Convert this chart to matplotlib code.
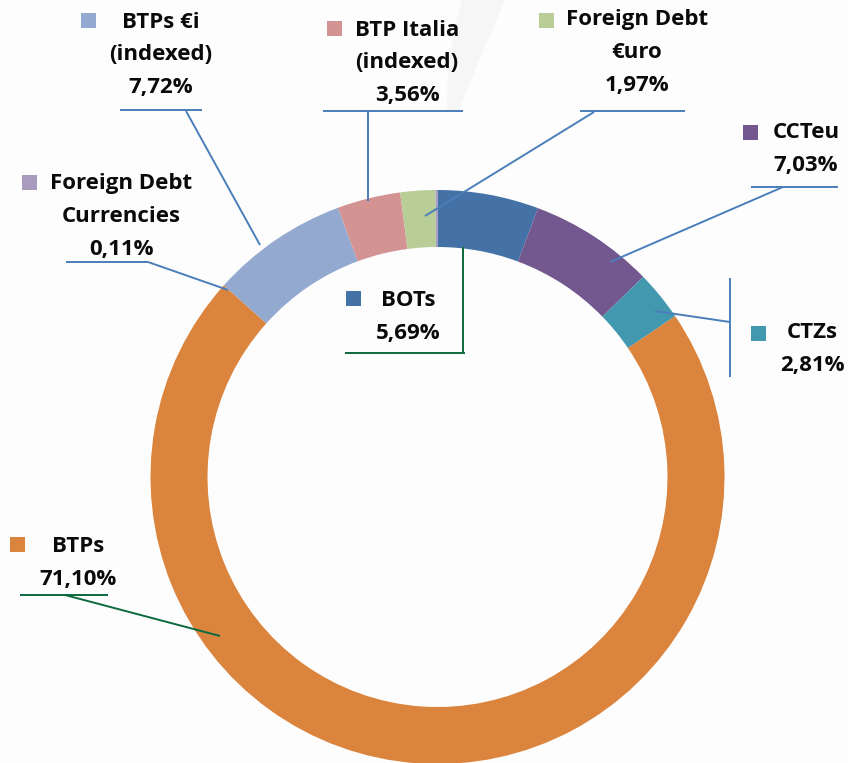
import numpy as np
import matplotlib
matplotlib.use("Agg")
import matplotlib.pyplot as plt
from matplotlib.patches import Rectangle, Polygon

# Composition of public debt (% of total), clockwise from 12 o'clock
names = ["BOTs", "CCTeu", "CTZs", "BTPs", "BTPs €i\n(indexed)",
         "BTP Italia\n(indexed)", "Foreign Debt\n€uro", "Foreign Debt\nCurrencies"]
values = [5.69, 7.03, 2.81, 71.10, 7.72, 3.56, 1.97, 0.11]
colors = ["#4472A6", "#72588E", "#4298AF", "#DB843D", "#93A9CF",
          "#D29392", "#B9CD96", "#A99BBE"]

W, H = 848, 763
BLUE = "#4A7EBB"
GREEN = "#0B6B3E"

# label layout in pixel coords: text centre x, first line y, square corner, leader segments, colour
layout = {
    "BOTs": (408, 300, (346, 291), [[(345, 353), (465, 353)], [(463, 353), (463, 247)]], GREEN),
    "CCTeu": (806, 133, (743, 125), [[(751, 187), (838, 187)], [(783, 187), (610, 262)]], BLUE),
    "CTZs": (812, 333, (751, 326), [[(730, 278), (730, 377)], [(730, 322), (655, 311)]], BLUE),
    "BTPs": (78, 547, (10, 537), [[(20, 595), (108, 595)], [(65, 595), (220, 636)]], GREEN),
    "BTPs €i\n(indexed)": (161, 22, (81, 13), [[(120, 110), (202, 110)], [(186, 111), (260, 245)]], BLUE),
    "BTP Italia\n(indexed)": (407, 30, (327, 21), [[(323, 111), (463, 111)], [(368, 111), (368, 201)]], BLUE),
    "Foreign Debt\n€uro": (637, 20, (539, 13), [[(580, 111), (685, 111)], [(594, 112), (425, 216)]], BLUE),
    "Foreign Debt\nCurrencies": (121, 184, (22, 175), [[(66, 262), (148, 262)], [(148, 262), (228, 290)]], BLUE),
}

bg = "#FEFDFD"
fig = plt.figure(figsize=(W / 100, H / 100), dpi=100, facecolor=bg)
ax = fig.add_axes([0, 0, 1, 1])
ax.set_facecolor(bg)

# faint watermark swoosh behind everything
ax.add_patch(Polygon([(462, 0), (505, 0), (475, 70), (458, 112), (447, 112), (448, 60)],
                     closed=True, facecolor="#F7F6F6", edgecolor="none", zorder=0))

# y axis is inverted, so counter-clockwise in data = clockwise on screen
ax.pie(values, colors=colors, startangle=-90, counterclock=True,
       radius=287, center=(437.5, 477),
       wedgeprops=dict(width=57, edgecolor="none", linewidth=0))
ax.set_xlim(0, W)
ax.set_ylim(H, 0)
ax.set_aspect("equal")
ax.axis("off")

font = dict(family=["Open Sans", "DejaVu Sans"], fontsize=16, fontweight="bold", color="#0A0A0A")
line_h = 33

for name, val, col in zip(names, values, colors):
    cx, y0, sq, segs, lc = layout[name]
    lines = name.split("\n") + [f"{val:.2f}".replace(".", ",") + "%"]
    for i, t in enumerate(lines):
        ax.text(cx, y0 + i * line_h, t, ha="center", va="center", zorder=5, **font)
    ax.add_patch(Rectangle(sq, 15, 15, facecolor=col, edgecolor="none", zorder=5))
    for seg in segs:
        xs, ys = zip(*seg)
        ax.plot(xs, ys, color=lc, lw=1.4, zorder=4, solid_capstyle="butt")

fig.savefig("out.png", dpi=100, facecolor=bg)
